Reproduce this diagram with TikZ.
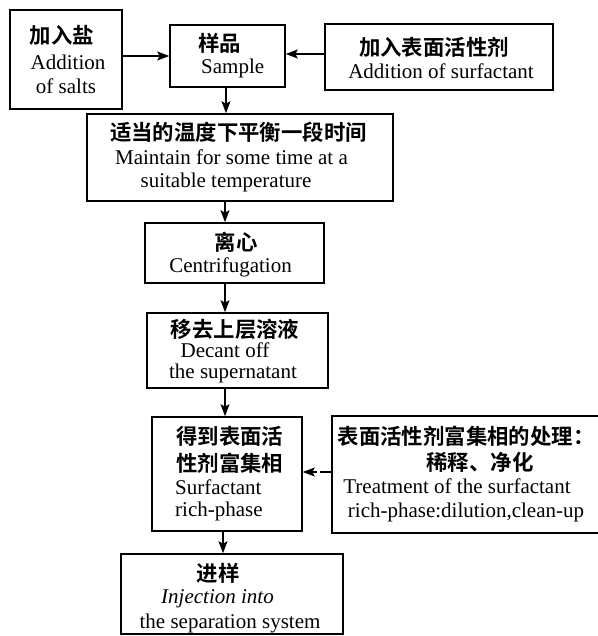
\documentclass[tikz,border=0pt]{standalone}
\usepackage{fontspec}
\setmainfont{Liberation Serif}
\newfontfamily\cjk{Noto Sans CJK SC Bold}
\usetikzlibrary{arrows.meta}
\begin{document}
\begin{tikzpicture}[x=1pt,y=-1pt,
  box/.style={draw, line width=1.6pt, inner sep=0pt, fill=none},
  zh/.style={inner sep=0pt, anchor=center, font=\cjk\fontsize{21.4}{24}\selectfont},
  en/.style={inner sep=0pt, anchor=center, font=\fontsize{21}{25}\selectfont},
  arr/.style={line width=1.3pt, -{Stealth[length=12pt,width=9pt,inset=2.5pt]}}]
\useasboundingbox (0,0) rectangle (597,636);
% boxes
\node[box, minimum width=112pt, minimum height=99pt] (salts) at (66,59.5) {};
\node[box, minimum width=115pt, minimum height=62pt] (sample) at (227.5,56) {};
\node[box, minimum width=228pt, minimum height=66pt] (surf) at (439,57) {};
\node[box, minimum width=306pt, minimum height=87pt] (maint) at (240,157.5) {};
\node[box, minimum width=179pt, minimum height=60pt] (centr) at (234.5,253) {};
\node[box, minimum width=181pt, minimum height=75pt] (dec) at (237.5,350.5) {};
\node[box, minimum width=150pt, minimum height=114pt] (rich) at (227,474) {};
\node[box, minimum width=270pt, minimum height=117pt] (treat) at (467,474.5) {};
\node[box, minimum width=222pt, minimum height=80pt] (inj) at (232,594) {};
% texts
\node[zh] (salts1) at (62,35) {加入盐};
\node[en] (salts2) at (68,62) {Addition};
\node[en] (salts3) at (66,86) {of salts};
\node[zh, anchor=west] (sample1) at (198,43) {样品};
\node[en, anchor=west] (sample2) at (201,68) {Sample};
\node[zh] (surf1) at (434,47) {加入表面活性剂};
\node[en] (surf2) at (441,71) {Addition of surfactant};
\node[zh] (maint1) at (238.5,132) {适当的温度下平衡一段时间};
\node[en] (maint2) at (231.5,157) {Maintain for some time at a};
\node[en] (maint3) at (226,182) {suitable temperature};
\node[zh] (centr1) at (236,242) {离心};
\node[en] (centr2) at (230.5,267) {Centrifugation};
\node[zh] (dec1) at (235,329) {移去上层溶液};
\node[en] (dec2) at (225,350) {Decant off};
\node[en] (dec3) at (233,373) {the supernatant};
\node[zh, anchor=west] (rich1) at (176,436) {得到表面活};
\node[zh, anchor=west] (rich2) at (176,463) {性剂富集相};
\node[en, anchor=west] (rich3) at (175,487) {Surfactant};
\node[en, anchor=west] (rich4) at (175,511) {rich-phase};
\node[zh] (treat1) at (466,436) {表面活性剂富集相的处理：};
\node[zh] (treat2) at (480,462) {稀释、净化};
\node[en] (treat3) at (457,486) {Treatment of the surfactant};
\node[en] (treat4) at (466,512) {rich-phase:dilution,clean-up};
\node[zh] (inj1) at (218,573) {进样};
\node[en, font=\itshape\fontsize{21}{25}\selectfont] (inj2) at (217.5,599) {Injection into};
\node[en] (inj3) at (230,623) {the separation system};
% connectors
\draw[arr] (salts.east |- 0,56) -- (sample.west |- 0,56);
\draw[arr] (surf.west |- 0,54) -- (sample.east |- 0,54);
\draw[arr] (sample.south -| 226,0) -- (maint.north -| 226,0);
\draw[arr] (maint.south -| 225,0) -- (centr.north -| 225,0);
\draw[arr] (centr.south -| 225,0) -- (dec.north -| 225,0);
\draw[arr] (dec.south -| 225,0) -- (rich.north -| 225,0);
\draw[arr, dash pattern=on 11pt off 3pt on 30pt off 0pt] (treat.west |- 0,472) -- (rich.east |- 0,472);
\draw[arr] (rich.south -| 223,0) -- (inj.north -| 223,0);
\end{tikzpicture}
\end{document}
